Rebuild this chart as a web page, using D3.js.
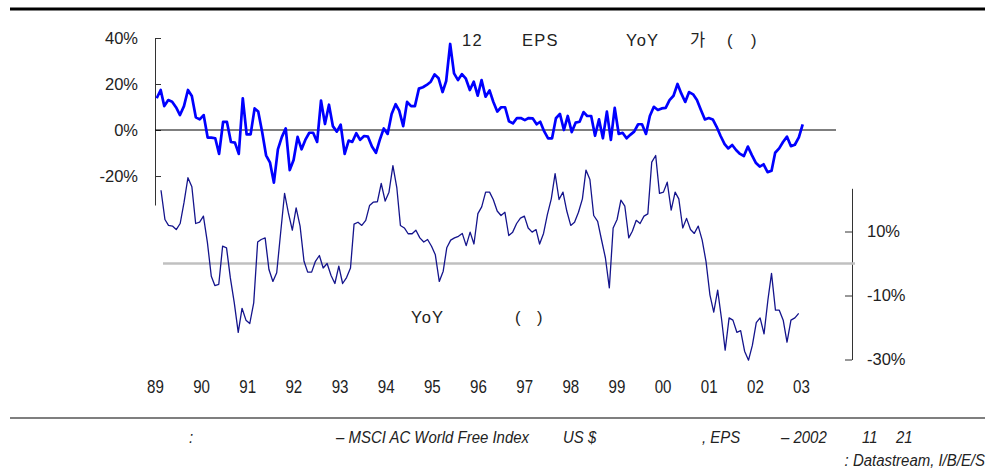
<!DOCTYPE html>
<html>
<head>
<meta charset="utf-8">
<script src="https://cdn.jsdelivr.net/npm/d3@7"></script>
<style>
  body { margin: 0; background: #fff; }
  svg text { font-family: "Liberation Sans", Arial, sans-serif; fill: #222; }
</style>
</head>
<body>
<div id="chart"></div>
<script>
// monthly EPS forecast growth (top, %) and index YoY (bottom, %), Jan 1989 - Oct 2002
const epsGrowth = [
  13.8, 17.4, 10.4, 13.0, 12.3, 9.8, 6.5, 10.4, 17.4, 14.8, 5.5, 4.6, 6.5, -3.3, -3.3, -3.6,
  -10.4, 3.5, 3.5, -5.2, -5.5, -10.4, 13.8, -1.9, -1.9, 9.4, 8.0, -1.0, -11.0, -14.2, -22.9, -8.4,
  -3.0, 0.7, -17.4, -13.0, -3.0, -8.4, -4.3, -1.2, -1.2, -5.2, 12.8, 2.6, 11.0, 1.7, -0.7, 2.3,
  -10.4, -4.6, -5.2, -1.4, -4.3, -2.6, -2.9, -7.2,
  -9.9, -4.3, 0.7, -1.7, 7.0, 11.2, 8.4, 1.7, 12.2, 10.4, 10.4, 18.0, 18.6, 19.6, 21.0, 24.2,
  22.5, 16.5, 21.3, 37.4, 24.6, 21.7, 24.3, 22.3, 17.4, 21.0, 14.9, 21.7, 14.5, 17.2, 12.3, 8.0,
  9.9, 9.9, 3.8, 2.9, 5.2, 5.2, 4.3, 5.2, 5.1, 2.5, 3.6, -0.6, -3.6, -3.6, 5.1, 7.0, 0, 6.1,
  -0.9, 3.2, 3.6, 7.8, 6.1, 6.1, -2.5,
  4.6, -3.6, 8.0, -4.3, 9.6, -1.7, -1.2, -3.6, -2.0, -0.7, 2.5, 2.5, -1.7, 6.1, 10.1, 8.7,
  9.4, 9.6, 13.0, 14.9, 20.0, 15.9, 12.2, 16.5, 15.5, 13.0, 8.7, 4.6, 5.2, 4.6, 1.4, -2.6,
  -6.1, -8.0, -6.5, -8.7, -10.4, -11.3, -7.2, -10.9, -14.2, -15.9, -14.9, -18.3, -17.7, -9.9,
  -8.0, -5.2, -2.9, -7.0, -6.4, -3.2, 2.5
];
const indexYoY = [
  22.9, 13.75, 11.9, 11.7, 10.6, 12.5, 19.0, 26.8, 24.0, 12.5, 12.9, 14.8, 6.7, -4.0, -6.9, -6.5,
  5.4, 4.9, -4.5, -12.3, -21.5, -14.0, -17.7, -18.75, -12.3, 6.7, 7.5, 8.0, -1.9, -5.6, -2.9, 9.6,
  21.9, 15.8, 10.4, 17.4, 11.7, 0.7, -2.7, -2.7, 0.7, 2.5, -1.4, 0, -3.75, -6.25, -0.8, -6.25,
  -4.4, -1.4, 12.3, 12.9, 11.9, 13.5, 18.1,
  19.2, 19.3, 25.0, 19.5, 22.3, 30.6, 23.6, 11.9, 11.1, 9.3, 9.3, 10.4, 8.0, 6.7, 7.5, 5.4,
  2.7, -5.6, -2.4, 4.9, 7.3, 8.0, 8.5, 9.4, 5.6, 9.8, 6.1, 15.6, 17.7, 22.3, 22.3, 20.0,
  16.4, 15.0, 16.0, 8.75, 9.8, 12.5, 14.2, 14.8, 11.1, 9.8, 10.6, 6.1, 9.4, 15.3, 20.2, 28.1,
  20.0, 22.3, 16.4, 11.9, 12.9, 16.0, 20.2, 29.2, 26.25,
  15.0, 13.2, 7.5, 1.8, -7.6, 11.1, 13.75, 19.8, 17.9, 8.0, 10.1, 13.5, 12.5, 14.8, 15.5, 31.7,
  33.75, 21.9, 22.3, 25.4, 16.7, 22.3, 20.2, 11.1, 14.1, 10.6, 9.4, 11.7, 7.3, 0.7, -9.8, -15.2,
  -8.3, -17.5, -27.1, -17.0, -17.7, -21.5, -21.0, -27.4, -30.2, -25.6, -18.5, -17.0, -22.0,
  -11.25, -3.1, -14.6, -14.6, -17.7, -24.6, -17.7, -17.0, -15.6
];
const months = d3.timeMonth.range(new Date(1989, 0, 1), new Date(2002, 10, 1));
const topTicks = [-20, 0, 20, 40];
const bottomTicks = [-30, -10, 10];

const W = 997, H = 474;
const svg = d3.select("#chart").append("svg")
  .attr("width", W).attr("height", H);

// top rule
svg.append("line").attr("x1", 10).attr("x2", 985).attr("y1", 9).attr("y2", 9)
  .attr("stroke", "#000").attr("stroke-width", 2.8);

// scales
const xTop = d3.scaleTime().domain(d3.extent(months)).range([156.7, 802.7]);
const xBot = d3.scaleTime().domain(d3.extent(months)).range([161, 798.7]);
const xYears = d3.scaleTime().domain([new Date(1989, 0, 1), new Date(2003, 0, 1)]).range([155, 801]);
const yTop = d3.scaleLinear().domain([-32.6, 40]).range([205, 38]);
const yBot = d3.scaleLinear().domain([-30, 23.5]).range([359.5, 188.3]);

// top left axis
const gTop = svg.append("g").attr("transform", "translate(155,0)")
  .call(d3.axisLeft(yTop).tickValues(topTicks).tickSizeInner(-6).tickSizeOuter(0)
    .tickPadding(17).tickFormat(d => d + "%"));
gTop.selectAll("path, line").attr("stroke", "#333");
gTop.selectAll("text").attr("font-size", 16.5).attr("font-family", "Liberation Sans, Arial, sans-serif").attr("fill", "#222");

// bottom right axis
const gBot = svg.append("g").attr("transform", "translate(852,0)")
  .call(d3.axisRight(yBot).tickValues(bottomTicks).tickSizeInner(-7).tickSizeOuter(0)
    .tickPadding(15).tickFormat(d => d + "%"));
gBot.selectAll("path, line").attr("stroke", "#333");
gBot.selectAll("text").attr("font-size", 16.5).attr("font-family", "Liberation Sans, Arial, sans-serif").attr("fill", "#222");

// zero lines
svg.append("line").attr("x1", 163).attr("x2", 855).attr("y1", yBot(0)).attr("y2", yBot(0))
  .attr("stroke", "#c0c0c0").attr("stroke-width", 2.5);
svg.append("line").attr("x1", 155).attr("x2", 836).attr("y1", yTop(0)).attr("y2", yTop(0))
  .attr("stroke", "#000").attr("stroke-width", 1.2);

// series
const lineTop = d3.line().x((d, i) => xTop(months[i])).y(d => yTop(d));
const lineBot = d3.line().x((d, i) => xBot(months[i])).y(d => yBot(d));

svg.append("path").datum(indexYoY).attr("d", lineBot)
  .attr("fill", "none").attr("stroke", "#14148c").attr("stroke-width", 1.3)
  .attr("stroke-linejoin", "round");
svg.append("path").datum(epsGrowth).attr("d", lineTop)
  .attr("fill", "none").attr("stroke", "#0000ff").attr("stroke-width", 2.7)
  .attr("stroke-linejoin", "round");

// x year labels (condensed look)
const gX = svg.append("g").attr("transform", "translate(0,380)")
  .call(d3.axisBottom(xYears).ticks(d3.timeYear.every(1)).tickSize(0).tickPadding(0)
    .tickFormat(d3.timeFormat("%y")));
gX.select(".domain").remove();
gX.selectAll("text").attr("font-size", 18).attr("transform", "scale(0.84,1)")
  .attr("font-family", "Liberation Sans, Arial, sans-serif").attr("fill", "#222");

// titles
const title = svg.append("g").attr("font-size", 16.5).attr("fill", "#222").style("letter-spacing", "1.2px");
title.append("text").attr("x", 462).attr("y", 46).text("12");
title.append("text").attr("x", 522).attr("y", 46).text("EPS");
title.append("text").attr("x", 626).attr("y", 46).text("YoY");
title.append("text").attr("x", 690).attr("y", 46).style("font-family", "'Noto Sans CJK KR', sans-serif").text("가");
title.append("text").attr("x", 727).attr("y", 46).text("(");
title.append("text").attr("x", 751).attr("y", 46).text(")");

const sub = svg.append("g").attr("font-size", 16.5).attr("fill", "#222").style("letter-spacing", "1.2px");
sub.append("text").attr("x", 411).attr("y", 323).text("YoY");
sub.append("text").attr("x", 515).attr("y", 323).text("(");
sub.append("text").attr("x", 537).attr("y", 323).text(")");

// footer
svg.append("line").attr("x1", 10).attr("x2", 985).attr("y1", 418).attr("y2", 418)
  .attr("stroke", "#000").attr("stroke-width", 1.2);
const foot = svg.append("g").attr("font-size", 17).attr("font-style", "italic");
const footText = (x, y, s, anchor) => foot.append("text")
  .attr("transform", `translate(${x},${y}) scale(0.88,1)`)
  .attr("text-anchor", anchor || "start").style("white-space", "pre").text(s);
footText(189, 443, ":");
footText(336, 443, "– MSCI AC World Free Index");
footText(563, 443, "US $");
footText(702, 443, ", EPS");
footText(781, 443, "– 2002");
footText(862, 443, "11");
footText(896, 443, "21");
footText(985, 466, ": Datastream, I/B/E/S", "end");
</script>
</body>
</html>
